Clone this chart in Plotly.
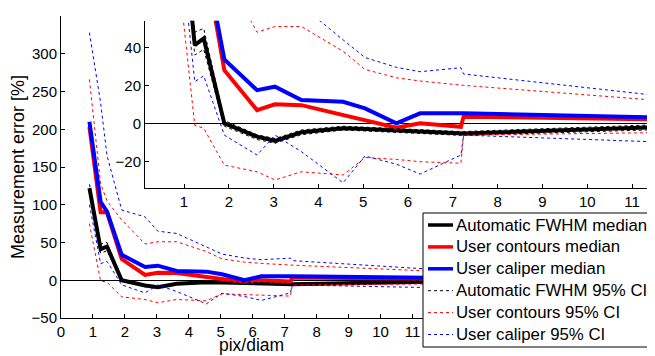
import plotly.graph_objects as go

# ---- data ----
pix_diam = [0.89, 1.24, 1.44, 1.9, 2.63, 3.03, 3.62, 4.55, 5.04, 5.74, 6.27, 7.18, 7.24, 11.47]

auto_median = [122, 41.2, 44.7, 0, -7, -9.2, -4.7, -2.6, -3.0, -3.8, -4.6, -5.3, -5.3, -2.1]
contour_median = [203, 90, 90, 28, 7, 10, 9.6, 4.4, 2.0, -2.3, 0, -1.8, 3.5, 2.1]
caliper_median = [210, 104, 91, 33.7, 17.5, 19.3, 12.3, 11.4, 7.9, 0, 5.3, 5.3, 5.3, 3.2]

auto_ci_upper = [127, 48, 50, 1.5, -6, -8, -3.5, -1.5, -2, -2.8, -3.6, -4.3, -4.3, -0.8]
auto_ci_lower = [118, 36, 39, -1.5, -8.5, -10.5, -6, -3.5, -4, -4.8, -5.6, -6.3, -6.3, -3.4]
contour_ci_upper = [266, 128, 105, 80, 48, 51, 51, 38, 28.4, 24, 22.3, 20.2, 20, 12.3]
contour_ci_lower = [75, -1, -2.6, -22, -25.5, -29.8, -25.5, -27.2, -18, -19, -20.2, -21, -6.2, -4.9]
caliper_ci_upper = [328, 235, 165, 93, 84, 65, 62, 44, 34.7, 29.5, 27.2, 29.3, 26, 14.9]
caliper_ci_lower = [100, 22, 25, -6.2, -16.7, -6.2, -14.9, -31.3, -17.2, -21.5, -26.7, -16.7, -6.2, -9.7]

main_xticks = list(range(0, 12))
main_yticks = [-50, 0, 50, 100, 150, 200, 250, 300, 350]
inset_xticks = list(range(1, 12))
inset_yticks = [-20, 0, 20, 40]

FONT = "Liberation Sans, Arial, Helvetica, sans-serif"

medians = [
    ("Automatic FWHM median", auto_median, "black"),
    ("User contours median", contour_median, "red"),
    ("User caliper median", caliper_median, "blue"),
]
cis = [
    ("Automatic FWHM 95% CI", auto_ci_upper, auto_ci_lower, "black"),
    ("User contours 95% CI", contour_ci_upper, contour_ci_lower, "red"),
    ("User caliper 95% CI", caliper_ci_upper, caliper_ci_lower, "blue"),
]

fig = go.Figure()

for axes in (("x", "y"), ("x2", "y2")):
    for name, vals, col in medians:
        fig.add_trace(go.Scatter(
            x=pix_diam, y=vals, mode="lines", name=name,
            line=dict(color=col, width=4), showlegend=False,
            xaxis=axes[0], yaxis=axes[1]))
    for name, up, lo, col in cis:
        fig.add_trace(go.Scatter(
            x=pix_diam + [None] + pix_diam, y=up + [None] + lo,
            mode="lines", name=name, connectgaps=False,
            line=dict(color=col, width=1, dash="dot"), showlegend=False,
            xaxis=axes[0], yaxis=axes[1]))

axis_common = dict(
    showline=True, linecolor="black", linewidth=1, ticks="inside",
    ticklen=4, tickcolor="black", showgrid=False, mirror=False,
    tickfont=dict(family=FONT, size=15, color="black"),
)

# The page body adds an 8 px offset; the figure is sized so that the plot
# area lands at page pixels x 61..654, y 16..318.
OFF = 8
L, T, B = 61, 16, 318
PW, PH = 593, 302


def px_x(p):
    return (p - L) / PW


def px_y(p):
    return (B - p) / PH


shapes = [dict(type="rect", xref="paper", yref="paper", layer="above",
               x0=px_x(423), x1=px_x(662), y0=px_y(347), y1=px_y(213),
               line=dict(color="black", width=1), fillcolor="white")]
annotations = []
legend_entries = [(n, c, 3.5, "solid") for n, _, c in medians] + \
                 [(n, c, 1, "dot") for n, _, _, c in cis]
for i, (name, col, w, dash) in enumerate(legend_entries):
    yc = 225 + i * 21.9
    shapes.append(dict(type="line", xref="paper", yref="paper", layer="above",
                       x0=px_x(428), x1=px_x(453), y0=px_y(yc), y1=px_y(yc),
                       line=dict(color=col, width=w, dash=dash)))
    annotations.append(dict(text=name, xref="paper", yref="paper",
                            x=px_x(454), y=px_y(yc), xanchor="left", yanchor="middle",
                            showarrow=False,
                            font=dict(family=FONT, size=16.8, color="black")))

annotations += [
    dict(text="pix/diam", xref="x", yref="paper", x=5.97, y=px_y(357),
         xanchor="center", yanchor="bottom", showarrow=False,
         font=dict(family=FONT, size=17.5, color="black")),
    dict(text="Measurement error [%]", xref="paper", yref="paper",
         x=px_x(18), y=0.5, textangle=-90, xanchor="center", yanchor="middle",
         showarrow=False, font=dict(family=FONT, size=18, color="black")),
]

fig.update_layout(
    width=655 - OFF, height=356 - OFF,
    margin=dict(l=L - OFF, r=1, t=T - OFF, b=356 - B),
    paper_bgcolor="white", plot_bgcolor="white",
    font=dict(family=FONT, color="black"),
    showlegend=False,
    xaxis=dict(range=[0, 18.56], tickvals=main_xticks, zeroline=False, **axis_common),
    yaxis=dict(range=[-50, 350], tickvals=main_yticks, zeroline=True,
               zerolinecolor="black", zerolinewidth=1, **axis_common),
    xaxis2=dict(domain=[0.1417, 1], anchor="y2", range=[0.13, 11.49],
                tickvals=inset_xticks, zeroline=False, **axis_common),
    yaxis2=dict(domain=[0.4295, 0.984], anchor="x2", range=[-34.2, 54],
                tickvals=inset_yticks, zeroline=True,
                zerolinecolor="black", zerolinewidth=1, **axis_common),
    shapes=shapes,
    annotations=annotations,
)

fig.write_html("out.html")
